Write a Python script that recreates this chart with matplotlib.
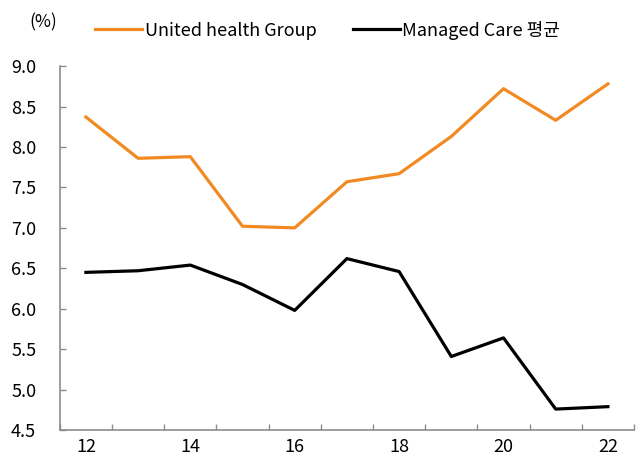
import numpy as np
import matplotlib.pyplot as plt
from matplotlib.ticker import FixedLocator, FixedFormatter

plt.rcParams['font.family'] = ['Noto Sans CJK KR', 'DejaVu Sans']

# data
years = ['12', '13', '14', '15', '16', '17', '18', '19', '20', '21', '22']
unh = [8.37, 7.86, 7.88, 7.02, 7.00, 7.57, 7.67, 8.13, 8.72, 8.33, 8.78]
managed_care = [6.45, 6.47, 6.54, 6.30, 5.98, 6.62, 6.46, 5.41, 5.64, 4.76, 4.79]

orange = '#F28A24'
grey = '#8C8C8C'

fig = plt.figure(figsize=(6.43, 4.62), dpi=100)
ax = fig.add_axes([0.093, 0.069, 0.893, 0.788])

x = np.arange(len(years))
ax.plot(x, unh, color=orange, lw=2.3, label='United health Group')
ax.plot(x, managed_care, color='black', lw=2.3, label='Managed Care 평균')

ax.set_ylim(4.5, 9.0)
ax.set_yticks(np.arange(4.5, 9.01, 0.5))
ax.set_yticklabels([f'{v:.1f}' for v in np.arange(4.5, 9.01, 0.5)])
ax.set_xlim(-0.5, len(years) - 0.5)

# boundary ticks (no labels), labels on every other category
ax.xaxis.set_major_locator(FixedLocator(np.arange(-0.5, len(years), 1.0)))
ax.xaxis.set_major_formatter(FixedFormatter([''] * (len(years) + 1)))
ax.xaxis.set_minor_locator(FixedLocator(x[::2]))
ax.xaxis.set_minor_formatter(FixedFormatter(years[::2]))

ax.tick_params(axis='x', which='major', direction='in', length=4, color=grey, width=1)
ax.tick_params(axis='x', which='minor', length=0, pad=6, labelsize=13)
ax.tick_params(axis='y', direction='in', length=4, color=grey, width=1, pad=17, labelsize=13)

for s in ['top', 'right']:
    ax.spines[s].set_visible(False)
for s in ['left', 'bottom']:
    ax.spines[s].set_color(grey)
    ax.spines[s].set_linewidth(1.2)

fig.text(0.045, 0.952, '(%)', fontsize=12.5, ha='left', va='center')
fig.legend(loc='center left', bbox_to_anchor=(0.148, 0.935), ncol=2, frameon=False,
           fontsize=13, handlelength=2.6, handletextpad=0.15, columnspacing=2.0,
           borderaxespad=0.0, borderpad=0.0)

fig.savefig('out.png', dpi=100)
